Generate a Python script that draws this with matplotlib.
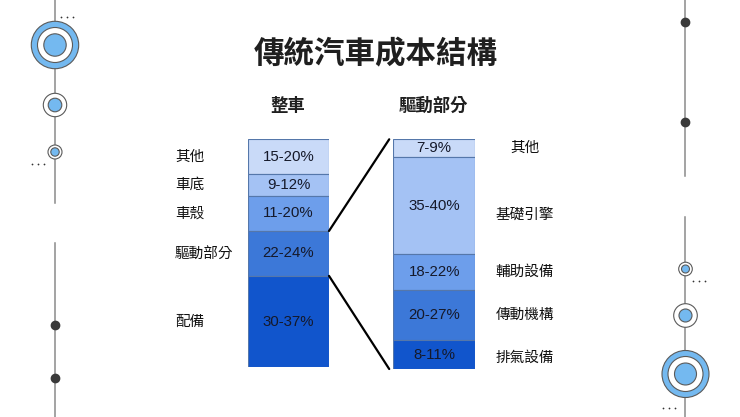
import matplotlib
matplotlib.use("Agg")
import matplotlib.pyplot as plt
from matplotlib.patches import Circle, ConnectionPatch
import numpy as np


# -----------------------------
# Data
# -----------------------------
title = "傳統汽車成本結構"

car_title = "整車"
car_parts = ["其他", "車底", "車殼", "驅動部分", "配備"]
car_ranges = ["15-20%", "9-12%", "11-20%", "22-24%", "30-37%"]
car_share = [15.4, 9.4, 15.4, 19.7, 40.1]

drive_title = "驅動部分"
drive_parts = ["其他", "基礎引擎", "輔助設備", "傳動機構", "排氣設備"]
drive_ranges = ["7-9%", "35-40%", "18-22%", "20-27%", "8-11%"]
drive_share = [7.6, 42.5, 15.5, 21.8, 12.6]

colors = ["#c9daf8", "#a4c2f4", "#6d9eeb", "#3c78d8", "#1155cc"]

cjk = ["Noto Sans CJK TC", "DejaVu Sans"]
plt.rcParams["font.family"] = cjk

W, H = 740, 417
fig = plt.figure(figsize=(W / 100, H / 100), dpi=100)
fig.patch.set_facecolor("white")


def px_axes(x0, y0, x1, y1):
    # axes placed by pixel box (top-left origin)
    return fig.add_axes([x0 / W, 1 - y1 / H, (x1 - x0) / W, (y1 - y0) / H])


# -----------------------------
# Background decorations
# -----------------------------
bg = fig.add_axes([0, 0, 1, 1])
bg.set_xlim(0, W)
bg.set_ylim(H, 0)
bg.axis("off")

line_c = "#8a8a8a"
blue_c = "#74b9f0"
edge_c = "#5a5a5a"


def target(ax, cx, cy, r_out, r_mid=None, r_in=None):
    if r_mid is None:
        ax.add_patch(Circle((cx, cy), r_out, fc="white", ec=edge_c, lw=0.8, zorder=3))
        ax.add_patch(Circle((cx, cy), r_in, fc=blue_c, ec=edge_c, lw=0.8, zorder=4))
    else:
        ax.add_patch(Circle((cx, cy), r_out, fc=blue_c, ec=edge_c, lw=0.8, zorder=3))
        ax.add_patch(Circle((cx, cy), r_mid, fc="white", ec=edge_c, lw=0.8, zorder=4))
        ax.add_patch(Circle((cx, cy), r_in, fc=blue_c, ec=edge_c, lw=0.8, zorder=5))


def dots(ax, x, y):
    ax.scatter([x, x + 6, x + 12], [y, y, y], s=1.6, color="#333333",
               linewidths=0, zorder=5)


# left strip
bg.plot([55, 55], [0, 203], color=line_c, lw=1.1, zorder=1)
bg.plot([55, 55], [243, H], color=line_c, lw=1.1, zorder=1)
target(bg, 55, 45, 23.7, 17.5, 11.2)
target(bg, 55, 105, 11.7, r_in=6.8)
target(bg, 55, 152, 7, r_in=4.2)
bg.scatter([55, 55], [325, 378], s=36, color="#3a3a3a", zorder=4)
dots(bg, 61, 17)
dots(bg, 32, 164)

# right strip
bg.plot([685, 685], [0, 176], color=line_c, lw=1.1, zorder=1)
bg.plot([685, 685], [217, H], color=line_c, lw=1.1, zorder=1)
bg.scatter([685, 685], [22, 122], s=36, color="#3a3a3a", zorder=4)
target(bg, 685.5, 269, 6.8, r_in=4)
target(bg, 685.5, 315.5, 11.8, r_in=6.5)
target(bg, 685.5, 374, 23.5, 17.5, 11)
dots(bg, 693, 281)
dots(bg, 663, 408)

# -----------------------------
# Titles
# -----------------------------
fig.text(376 / W, 1 - 54 / H, title, ha="center", va="center",
         fontsize=22, fontweight="bold", color="#1f1f1f", family=cjk)
fig.text(288 / W, 1 - 106 / H, car_title, ha="center", va="center",
         fontsize=12.5, fontweight="bold", color="#1f1f1f", family=cjk)
fig.text(433.5 / W, 1 - 106 / H, drive_title, ha="center", va="center",
         fontsize=12.5, fontweight="bold", color="#1f1f1f", family=cjk)


# -----------------------------
# Stacked bars
# -----------------------------
def stacked(ax, shares, ranges):
    bottoms = np.concatenate([[0], np.cumsum(shares)[:-1]])
    ax.bar(0, shares, bottom=bottoms, width=1.0, color=colors,
           edgecolor="#5577aa", linewidth=0.8)
    for b, s, r in zip(bottoms, shares, ranges):
        ax.text(0, b + s / 2, r, ha="center", va="center", fontsize=10.8,
                color="#15192a", family=["Liberation Sans", "DejaVu Sans"])
    ax.set_xlim(-0.5, 0.5)
    ax.set_ylim(100, 0)
    ax.axis("off")
    return bottoms


ax_car = px_axes(248, 139.3, 329, 367.3)
car_bottoms = stacked(ax_car, car_share, car_ranges)

ax_drive = px_axes(393.3, 139.3, 475, 369)
drive_bottoms = stacked(ax_drive, drive_share, drive_ranges)

# left labels
for b, s, name in zip(car_bottoms, car_share, car_parts):
    y = ax_car.transData.transform((0, b + s / 2))[1]
    fig.text(175 / W, y / fig.dpi / fig.get_figheight(), name, ha="left",
             va="center", fontsize=10.5, color="#111111", family=cjk)

# right labels (基礎引擎 sits a little below its segment centre)
right_label_y = [b + s / 2 for b, s in zip(drive_bottoms, drive_share)]
right_label_y[1] = right_label_y[1] + 4
right_label_y[4] = right_label_y[4] + 1.5
for yv, name in zip(right_label_y, drive_parts):
    y = ax_drive.transData.transform((0, yv))[1]
    fig.text(525 / W, y / fig.dpi / fig.get_figheight(), name, ha="center",
             va="center", fontsize=10.5, color="#111111", family=cjk)

# connector lines from 驅動部分 to its breakdown
drive_idx = car_parts.index("驅動部分")
top_y = car_bottoms[drive_idx]
bot_y = car_bottoms[drive_idx] + car_share[drive_idx]
for ya, yb in [(top_y, 0), (bot_y, 100)]:
    con = ConnectionPatch(xyA=(0.5, ya), coordsA=ax_car.transData,
                          xyB=(-0.55, yb), coordsB=ax_drive.transData,
                          color="black", lw=1.6)
    fig.add_artist(con)

plt.savefig("out.png", dpi=100)
